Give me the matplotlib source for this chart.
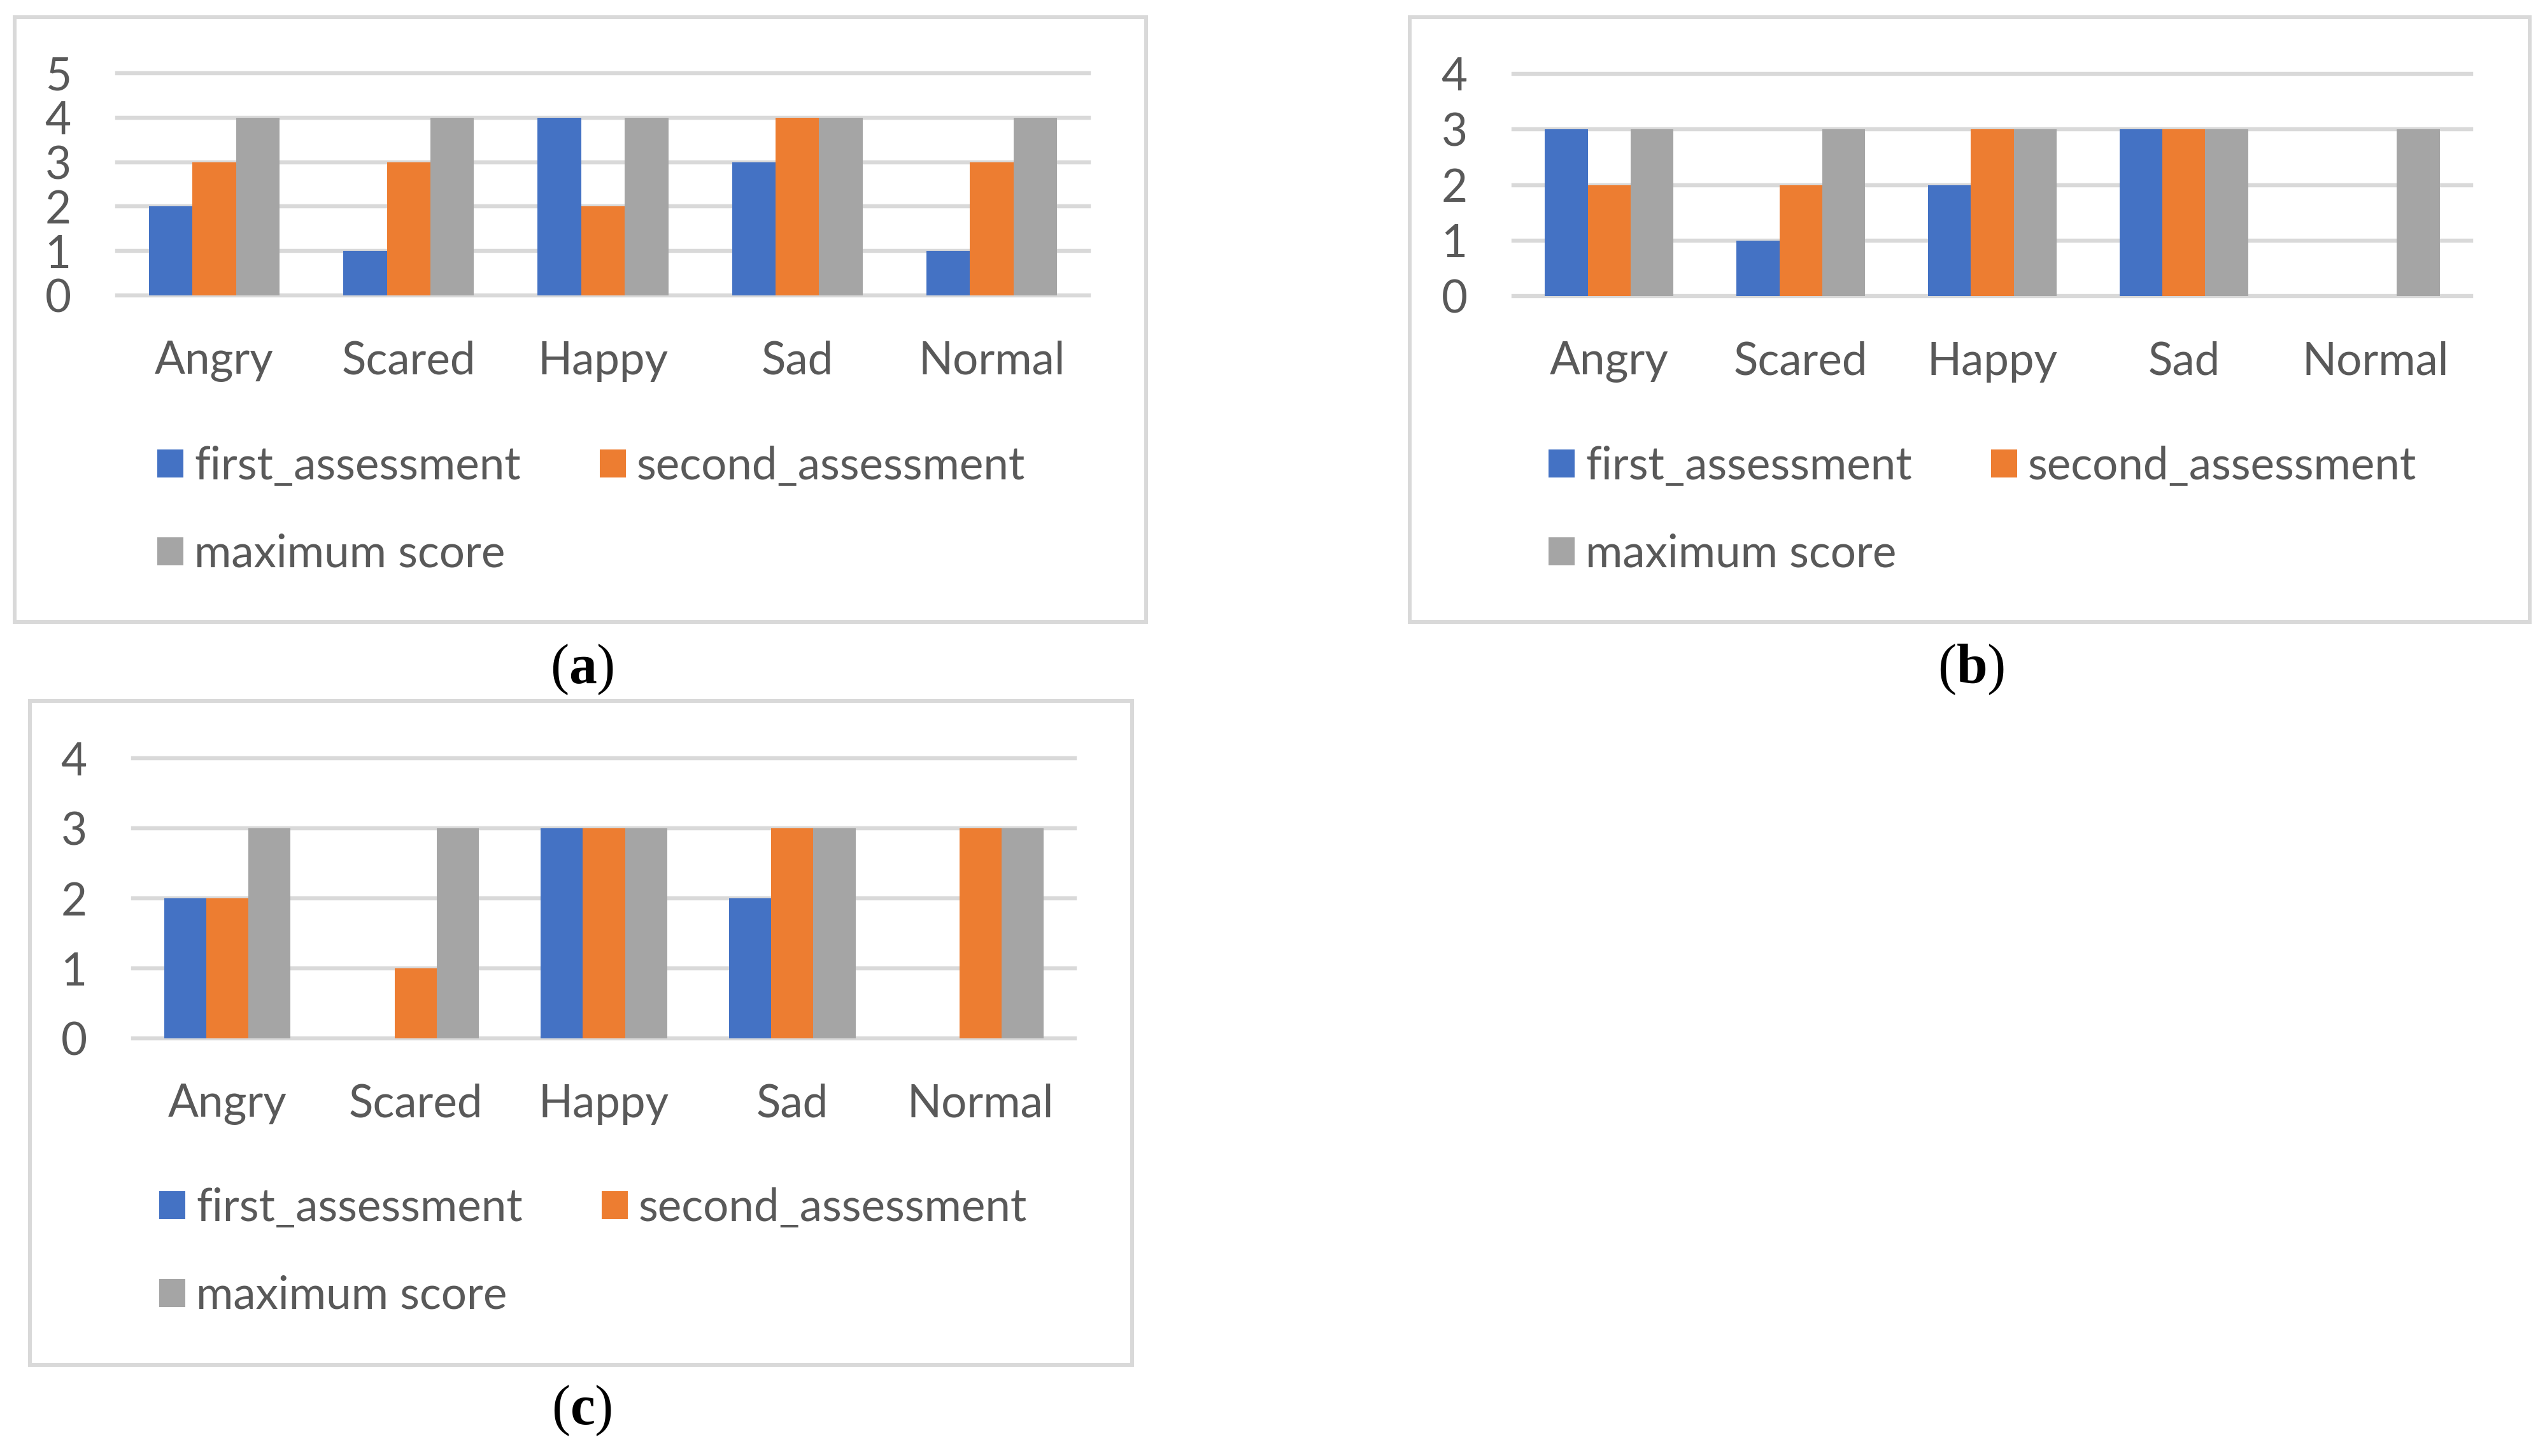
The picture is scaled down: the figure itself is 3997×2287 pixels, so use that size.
"""
Three grouped bar panels: first/second assessment vs maximum score per emotion.
"""
import numpy as np
import matplotlib.pyplot as plt
from matplotlib.patches import Rectangle

W, H = 3998, 2287
DPI = 100

CATEGORIES = ["Angry", "Scared", "Happy", "Sad", "Normal"]
SERIES = ["first_assessment", "second_assessment", "maximum score"]
COLORS = ["#4472C4", "#ED7D31", "#A5A5A5"]

# panel (a)
a_first = [2, 1, 4, 3, 1]
a_second = [3, 3, 2, 4, 3]
a_max = [4, 4, 4, 4, 4]
# panel (b)
b_first = [3, 1, 2, 3, 0]
b_second = [2, 2, 3, 3, 0]
b_max = [3, 3, 3, 3, 3]
# panel (c)
c_first = [2, 0, 3, 2, 0]
c_second = [2, 1, 3, 3, 3]
c_max = [3, 3, 3, 3, 3]

TEXT = "#595959"
GRID = "#D9D9D9"
FONT = "Lato"
FS = 51
BAR_W = 0.224

plt.rcParams['font.family'] = [FONT, 'DejaVu Sans']
plt.rcParams['mathtext.fontset'] = 'custom'
plt.rcParams['mathtext.rm'] = 'Liberation Serif'
plt.rcParams['mathtext.bf'] = 'Liberation Serif:bold'


def px_box(x0, y0, x1, y1):
    """pixel box (top-left origin) -> figure fraction [l, b, w, h]"""
    return [x0 / W, 1 - y1 / H, (x1 - x0) / W, (y1 - y0) / H]


def panel(fig, ax_px, frame_px, legend_px, data, ymax, label, label_px):
    # frame around the chart
    l, b, w, h = px_box(*frame_px)
    fig.patches.append(Rectangle((l, b), w, h, transform=fig.transFigure,
                                 fill=False, edgecolor=GRID, linewidth=4.3, zorder=0))

    ax = fig.add_axes(px_box(*ax_px))
    x = np.arange(len(CATEGORIES))
    handles = []
    for i, (vals, col, name) in enumerate(zip(data, COLORS, SERIES)):
        bars = ax.bar(x + (i - 1) * BAR_W, vals, BAR_W, color=col, label=name, zorder=3)
        handles.append(bars)

    ax.set_xlim(-0.5, len(CATEGORIES) - 0.5)
    ax.set_ylim(0, ymax)
    ax.set_yticks(range(0, ymax + 1))
    ax.set_xticks(x)
    ax.set_xticklabels(CATEGORIES)
    ax.yaxis.grid(True, color=GRID, linewidth=4.6, zorder=0)
    ax.set_axisbelow(True)
    for s in ax.spines.values():
        s.set_visible(False)
    ax.tick_params(axis='both', length=0, labelsize=FS, labelcolor=TEXT)
    ax.tick_params(axis='x', pad=51)
    ax.tick_params(axis='y', pad=52)
    ax.patch.set_alpha(0)
    for line in ax.get_ygridlines():
        line.set_clip_on(False)

    # legend, row-major: first, second / maximum
    order = [handles[0], handles[2], handles[1]]
    names = [SERIES[0], SERIES[2], SERIES[1]]
    lx, ly = legend_px
    fig.legend(order, names, loc='upper left',
               bbox_to_anchor=(lx / W, 1 - ly / H), ncol=2, frameon=False,
               fontsize=FS, labelcolor=TEXT, handlelength=0.58, handleheight=0.58,
               handletextpad=0.24, columnspacing=1.75, labelspacing=1.03,
               borderpad=0, borderaxespad=0)

    fig.text(label_px[0] / W, 1 - label_px[1] / H, label, fontsize=63,
             ha='center', va='center', color='black')
    return ax


def main():
    fig = plt.figure(figsize=(W / DPI, H / DPI), dpi=DPI)
    fig.patch.set_facecolor('white')

    panel(fig, (184, 115, 1710, 464), (23, 27, 1800, 977), (247, 700),
          [a_first, a_second, a_max], 5, r"$(\mathbf{a})$", (914, 1052))
    panel(fig, (2377, 116, 3881, 465), (2214, 27, 3973, 977), (2432, 700),
          [b_first, b_second, b_max], 4, r"$(\mathbf{b})$", (3096, 1052))
    panel(fig, (209, 1191, 1688, 1631), (47, 1101, 1778, 2144), (250, 1865),
          [c_first, c_second, c_max], 4, r"$(\mathbf{c})$", (914, 2216))

    fig.savefig("out.png", dpi=DPI)
    plt.close(fig)


if __name__ == "__main__":
    main()
